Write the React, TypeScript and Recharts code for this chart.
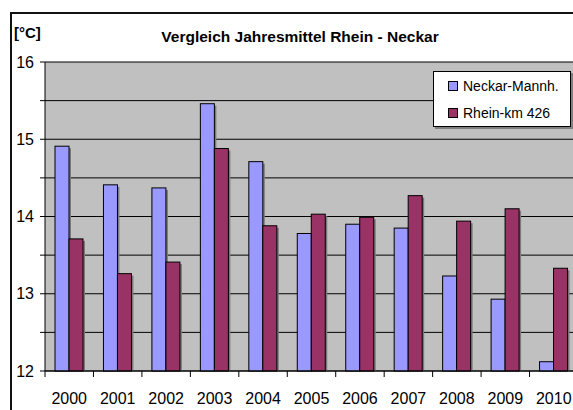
import { Bar, BarChart, CartesianGrid, XAxis, YAxis } from 'recharts';

const years = ['2000', '2001', '2002', '2003', '2004', '2005', '2006', '2007', '2008', '2009', '2010'];
const neckar = [14.91, 14.41, 14.37, 15.46, 14.71, 13.78, 13.9, 13.85, 13.23, 12.93, 12.12];
const rhein = [13.71, 13.26, 13.41, 14.88, 13.88, 14.03, 13.99, 14.27, 13.94, 14.1, 13.33];
const yTicks = [12, 12.5, 13, 13.5, 14, 14.5, 15, 15.5, 16];

const seriesNames = ['Neckar-Mannh.', 'Rhein-km 426'];
const seriesColors = ['#9999FF', '#993366'];

const FONT = '"Liberation Sans", Arial, sans-serif';

const chartData = years.map((year, i) => ({ year, neckar: neckar[i], rhein: rhein[i] }));

// bar with a grey drop shadow like the old Excel charts
const ShadowBar = (props: any) => {
  const { x, y, width, height, fill } = props;
  if (!height || height <= 0) return null;
  return (
    <g>
      <rect x={x + 2} y={y + 2} width={width} height={Math.max(height - 2, 0)} fill="#7a7a7a" />
      <rect x={x} y={y} width={width} height={height} fill={fill} stroke="#000" strokeWidth={1} />
    </g>
  );
};

// tick marks sit between categories, labels in the middle
const YearTick = ({ x, y, payload }: any) => {
  const half = payload.offset || 24;
  return (
    <g>
      <line x1={x - half} y1={y} x2={x - half} y2={y + 6} stroke="#000" strokeWidth={1} />
      <text x={x} y={y + 33} textAnchor="middle" fontSize={16} fontFamily={FONT} fill="#000">
        {payload.value}
      </text>
    </g>
  );
};

export default function App() {
  return (
    <div style={{ position: 'absolute', left: 0, top: 0, width: 573, height: 410, overflow: 'hidden', background: '#fff', fontFamily: FONT }}>
      <div style={{ position: 'absolute', left: 10, top: 12, width: 600, height: 420, border: '2px solid #111' }} />
      <div style={{ position: 'absolute', left: 14, top: 24, fontSize: 15, fontWeight: 'bold', color: '#000' }}>[°C]</div>
      <div style={{ position: 'absolute', left: 100, width: 400, top: 28, textAlign: 'center', fontSize: 15.5, fontWeight: 'bold', color: '#000' }}>
        Vergleich Jahresmittel Rhein - Neckar
      </div>
      <div style={{ position: 'absolute', left: 12, top: 14 }}>
        <BarChart
          width={580}
          height={396}
          data={chartData}
          margin={{ top: 48, right: 14, bottom: 0, left: 0 }}
          barGap={0}
          barSize={14}
        >
          <CartesianGrid vertical={false} stroke="#000" strokeWidth={1} fill="#C0C0C0" fillOpacity={1} />
          <XAxis
            dataKey="year"
            height={39}
            axisLine={{ stroke: '#000' }}
            tickLine={false}
            tickSize={0}
            tickMargin={0}
            interval={0}
            tick={YearTick}
          />
          <YAxis
            width={33}
            domain={[12, 16]}
            ticks={yTicks}
            interval={0}
            axisLine={{ stroke: '#000' }}
            tickLine={{ stroke: '#000' }}
            tickSize={5}
            tickMargin={6}
            tickFormatter={(v: number) => (Number.isInteger(v) ? String(v) : '')}
            tick={{ fontSize: 16, fill: '#000', fontFamily: FONT }}
          />
          <Bar dataKey="neckar" name={seriesNames[0]} fill={seriesColors[0]} shape={ShadowBar} isAnimationActive={false} />
          <Bar dataKey="rhein" name={seriesNames[1]} fill={seriesColors[1]} shape={ShadowBar} isAnimationActive={false} />
        </BarChart>
      </div>
      <div
        style={{
          position: 'absolute',
          left: 433,
          top: 71,
          width: 136,
          height: 54,
          background: '#fff',
          border: '1px solid #000',
          boxShadow: '2px 2px 0 #808080',
        }}
      >
        {seriesNames.map((name, i) => (
          <div key={name} style={{ position: 'absolute', left: 14, top: 5 + i * 27, height: 18, display: 'flex', alignItems: 'center', fontSize: 14, color: '#000', whiteSpace: 'nowrap' }}>
            <span style={{ display: 'inline-block', width: 8, height: 8, background: seriesColors[i], border: '1px solid #000', marginRight: 5 }} />
            {name}
          </div>
        ))}
      </div>
    </div>
  );
}
